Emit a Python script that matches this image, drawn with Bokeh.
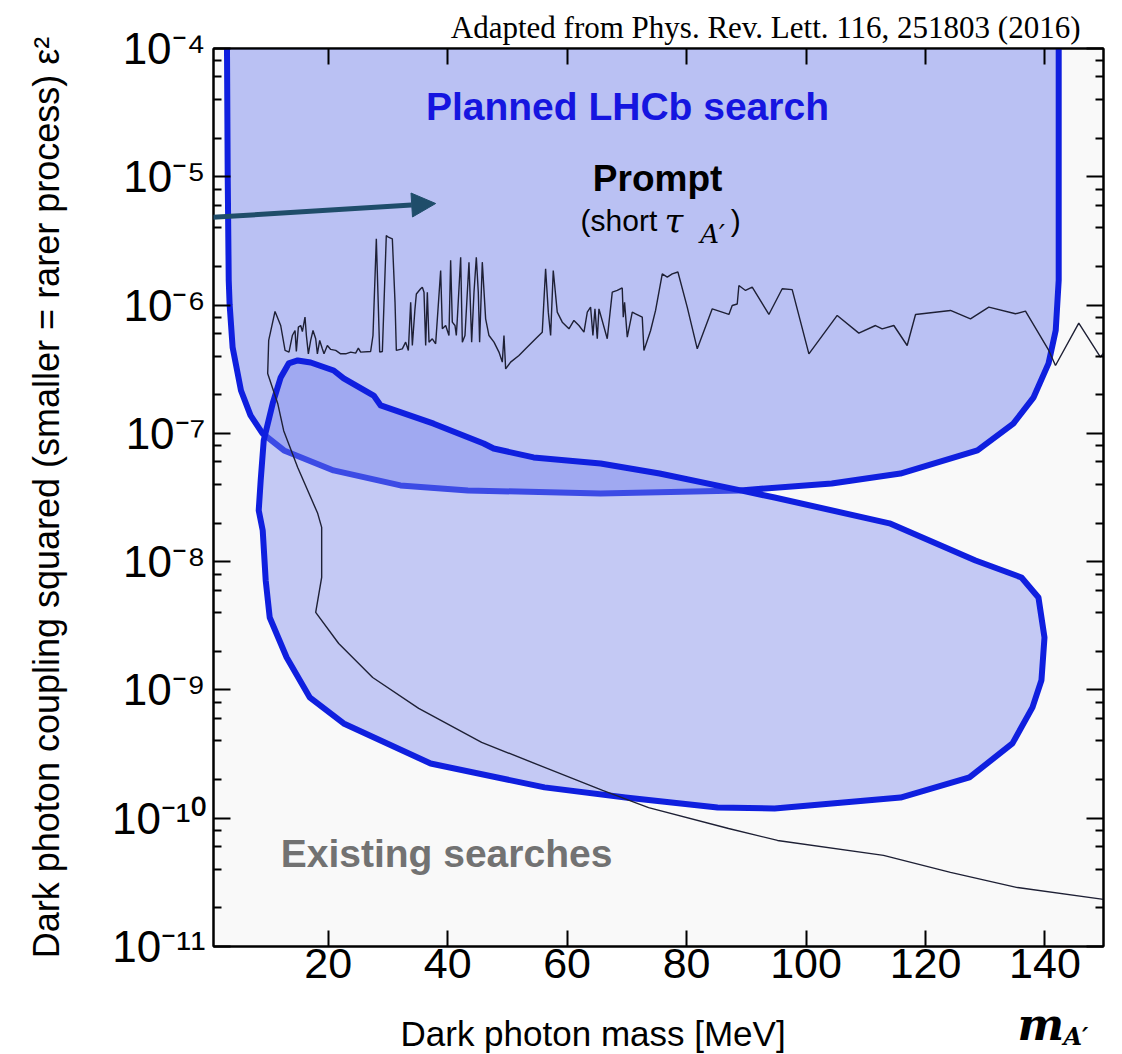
import math
from bokeh.plotting import figure
from bokeh.models import (Range1d, FixedTicker, LinearAxis, LogAxis, Label,
                          Arrow, NormalHead, Title)
from bokeh.embed import file_html
from bokeh.resources import INLINE

# ---------------- data ----------------
# Planned LHCb prompt search region (U shape, open at the top)
prompt_mass = [3.0, 3.18, 3.35, 3.5, 4.0, 5.4, 7.0, 9.0, 12.6, 20.9, 32.1, 43.4,
               65.6, 89.0, 104.3, 115.8, 128.7, 134.7, 138.1, 140.6, 141.8,
               142.3, 142.3]
prompt_eps2 = [3e-4, 1.0e-5, 1.56e-6, 1.01e-6, 4.68e-7, 2.16e-7, 1.38e-7,
               1.0e-7, 7.36e-8, 5.14e-8, 3.93e-8, 3.59e-8, 3.40e-8, 3.59e-8,
               4.07e-8, 4.86e-8, 7.36e-8, 1.19e-7, 1.91e-7, 3.51e-7, 6.34e-7,
               1.56e-6, 3e-4]

# Planned LHCb displaced search region (closed loop)
displaced_mass = [13.05, 10.21, 9.54, 9.04, 8.37, 8.70, 9.21, 10.71, 12.05,
                  13.39, 14.90, 17.07, 20.92, 22.59, 27.62, 28.79, 37.66, 46.03,
                  47.70, 54.39, 65.61, 75.48, 89.04, 94.73, 113.97, 128.37,
                  136.07, 138.91, 139.92, 139.41, 137.91, 134.56, 127.36,
                  115.82, 94.73, 85.19, 69.79, 56.23, 37.15, 22.59, 16.90]
displaced_eps2 = [1.79e-9, 3.67e-9, 7.13e-9, 1.75e-8, 2.51e-8, 4.30e-8, 8.81e-8,
                  1.71e-7, 2.73e-7, 3.51e-7, 3.70e-7, 3.57e-7, 3.09e-7, 2.68e-7,
                  1.97e-7, 1.65e-7, 1.19e-7, 8.34e-8, 7.62e-8, 6.49e-8, 5.82e-8,
                  4.86e-8, 3.59e-8, 3.16e-8, 1.99e-8, 1.02e-8, 7.53e-9, 5.26e-9,
                  2.56e-9, 1.19e-9, 7.31e-10, 3.83e-10, 2.08e-10, 1.45e-10,
                  1.19e-10, 1.21e-10, 1.45e-10, 1.74e-10, 2.67e-10, 5.48e-10,
                  8.75e-10]

# Existing searches limit (one continuous line)
existing_mass = [
    149.79, 135.40, 124.18, 112.97, 95.23, 87.03, 73.64, 65.94, 56.23, 45.69,
    35.15, 27.45, 21.76, 17.91, 18.91, 18.91, 18.24, 14.90, 12.55, 11.55,
    9.87, 10.04, 11.10, 12.05, 12.78, 13.44, 14.00, 14.45, 14.67, 15.01,
    15.40, 15.68, 16.12, 16.35, 16.68, 17.07, 17.46, 17.91, 18.19, 18.58,
    19.02, 19.30, 19.86, 20.42, 21.26, 22.09, 22.93, 23.77, 24.60, 25.05,
    25.44, 27.11, 27.50, 28.06, 28.62, 29.07, 29.73, 30.07, 30.74, 31.19,
    31.41, 32.41, 32.97, 33.42, 33.81, 34.09, 34.53, 34.76, 35.48, 35.76,
    36.04, 36.32, 36.60, 36.88, 37.43, 37.99, 38.83, 39.11, 39.67, 40.22,
    40.50, 40.78, 41.23, 41.45, 41.62, 42.18, 42.46, 42.90, 43.57, 44.02,
    44.41, 44.80, 45.13, 45.35, 45.80, 46.36, 46.92, 47.76, 48.59, 49.15,
    49.43, 49.71, 50.54, 51.94, 53.05, 54.73, 55.84, 56.40, 56.85, 57.24,
    57.68, 58.35, 59.19, 60.31, 61.14, 61.98, 62.82, 63.38, 63.93, 64.32,
    64.66, 65.05, 65.33, 66.72, 67.56, 68.40, 69.23, 69.40, 69.62, 70.07,
    70.91, 71.46, 72.58, 72.86, 73.98, 74.81, 75.93, 76.77, 77.60, 78.55,
    80.11, 81.79, 84.30, 87.09, 87.64, 88.48, 88.76, 89.87, 90.99, 93.78,
    96.01, 97.68, 100.48, 105.22, 108.84, 111.63, 112.75, 114.70, 116.93, 118.33,
    124.18, 127.53, 130.60, 135.06, 136.74, 140.64, 141.76, 145.66, 149.29, 150.13]
existing_eps2 = [
    2.33e-11, 2.88e-11, 3.78e-11, 5.13e-11, 6.71e-11, 8.32e-11, 1.21e-10, 1.65e-10, 2.49e-10, 3.90e-10,
    7.18e-10, 1.25e-9, 2.30e-9, 4.02e-9, 7.53e-9, 1.85e-8, 2.38e-8, 5.42e-8, 1.05e-7, 1.71e-7,
    2.93e-7, 5.30e-7, 8.92e-7, 6.93e-7, 4.43e-7, 4.30e-7, 5.79e-7, 6.34e-7, 4.35e-7, 6.73e-7,
    6.93e-7, 6.22e-7, 8.05e-7, 5.79e-7, 4.17e-7, 5.30e-7, 6.34e-7, 5.46e-7, 4.17e-7, 5.30e-7,
    4.56e-7, 4.17e-7, 4.84e-7, 4.51e-7, 4.43e-7, 4.17e-7, 4.17e-7, 4.30e-7, 4.22e-7, 4.62e-7,
    4.30e-7, 4.35e-7, 5.79e-7, 3.28e-6, 4.30e-7, 4.35e-7, 3.49e-6, 3.38e-6, 3.28e-6, 1.05e-6,
    4.43e-7, 4.56e-7, 5.14e-7, 4.43e-7, 1.05e-6, 4.84e-7, 9.35e-7, 1.22e-6, 1.34e-6, 1.38e-6,
    1.26e-6, 4.84e-7, 1.26e-6, 5.14e-7, 5.46e-7, 4.99e-7, 1.86e-6, 6.53e-7, 6.93e-7, 5.79e-7,
    2.23e-6, 7.36e-7, 6.93e-7, 5.79e-7, 7.81e-7, 2.36e-6, 5.14e-7, 5.79e-7, 2.16e-6, 5.14e-7,
    1.26e-6, 2.36e-6, 1.26e-6, 5.14e-7, 2.16e-6, 7.81e-7, 5.79e-7, 5.14e-7, 4.30e-7, 3.59e-7,
    5.79e-7, 3.18e-7, 3.59e-7, 4.05e-7, 4.56e-7, 5.46e-7, 6.15e-7, 1.92e-6, 8.81e-7, 5.79e-7,
    1.86e-6, 8.81e-7, 7.36e-7, 6.53e-7, 7.59e-7, 6.93e-7, 6.15e-7, 8.81e-7, 9.63e-7, 5.79e-7,
    9.35e-7, 5.46e-7, 9.35e-7, 5.46e-7, 1.26e-6, 1.30e-6, 1.36e-6, 8.05e-7, 1.05e-6, 5.63e-7,
    8.81e-7, 8.55e-7, 8.05e-7, 4.43e-7, 6.34e-7, 9.08e-7, 1.75e-6, 1.65e-6, 1.75e-6, 1.81e-6,
    9.63e-7, 4.56e-7, 9.35e-7, 8.45e-7, 9.93e-7, 1.02e-6, 1.42e-6, 1.30e-6, 1.38e-6, 8.45e-7,
    1.34e-6, 1.32e-6, 4.17e-7, 8.30e-7, 6.04e-7, 6.93e-7, 6.53e-7, 6.93e-7, 4.84e-7, 8.45e-7,
    9.08e-7, 7.81e-7, 9.63e-7, 8.55e-7, 8.97e-7, 4.43e-7, 3.38e-7, 7.23e-7, 3.93e-7, 4.43e-7]

x_ticks = [20, 40, 60, 80, 100, 120, 140]
x_tick_labels = ["20", "40", "60", "80", "100", "120", "140"]
y_ticks = [1e-11, 1e-10, 1e-9, 1e-8, 1e-7, 1e-6, 1e-5, 1e-4]
y_tick_labels = ["10⁻¹¹", "10⁻¹⁰", "10⁻⁹", "10⁻⁸", "10⁻⁷", "10⁻⁶", "10⁻⁵", "10⁻⁴"]
y_minor = [m * 10.0 ** e for e in range(-11, -4) for m in (2, 4, 6, 8)]

# ---------------- styling ----------------
BLUE = "#0f1fdf"
FILL = "#7b89ee"
ARROW = "#1f4d6a"
SANS = "Liberation Sans"
SERIF = "DejaVu Serif"

p = figure(width=1122, height=1054,
           x_range=Range1d(0.8, 149.8), y_range=Range1d(1e-11, 1e-4),
           y_axis_type="log", output_backend="svg", toolbar_location=None,
           min_border_left=213, min_border_right=19, min_border_top=48,
           min_border_bottom=108,
           background_fill_color="#f9f9f9", border_fill_color="white")
p.grid.visible = False
p.outline_line_color = "black"
p.outline_line_width = 2

# bottom axis
xa = p.xaxis[0]
xa.ticker = FixedTicker(ticks=x_ticks, minor_ticks=[])
xa.major_label_overrides = dict(zip(x_ticks, x_tick_labels))
xa.major_tick_in = 16
xa.major_tick_out = 0
xa.major_tick_line_width = 2
xa.axis_line_width = 2
xa.major_label_standoff = 2
xa.major_label_text_font = SANS
xa.major_label_text_font_size = "43px"
xa.major_label_text_color = "black"

# left axis (with its label)
ya = p.yaxis[0]
ya.ticker = FixedTicker(ticks=y_ticks, minor_ticks=y_minor)
ya.major_label_overrides = dict(zip(y_ticks, y_tick_labels))
ya.major_tick_in = 17
ya.major_tick_out = 0
ya.minor_tick_in = 8
ya.minor_tick_out = 0
ya.major_tick_line_width = 2
ya.minor_tick_line_width = 2
ya.axis_line_width = 2
ya.major_label_standoff = 8
ya.major_label_text_font = SANS
ya.major_label_text_font_size = "44px"
ya.major_label_text_color = "black"
ya.axis_label = "Dark photon coupling squared (smaller = rarer process) ε²"
ya.axis_label_text_font = SANS
ya.axis_label_text_font_size = "36px"
ya.axis_label_text_font_style = "normal"
ya.axis_label_text_color = "black"
ya.axis_label_standoff = 42

# top and right axes: ticks only
top = LinearAxis(ticker=FixedTicker(ticks=x_ticks, minor_ticks=[]),
                 major_label_overrides={t: "" for t in x_ticks},
                 major_tick_in=16, major_tick_out=0, major_tick_line_width=2,
                 axis_line_width=2, major_label_standoff=5)
right = LogAxis(ticker=FixedTicker(ticks=y_ticks, minor_ticks=y_minor),
                major_label_overrides={t: "" for t in y_ticks},
                major_tick_in=17, major_tick_out=0, minor_tick_in=8,
                minor_tick_out=0, major_tick_line_width=2,
                minor_tick_line_width=2, axis_line_width=2,
                major_label_standoff=0)
p.add_layout(top, "above")
p.add_layout(right, "right")

# texts outside the plot area (side-panel titles)
def add_title(text, place, align, offset, size, font=SANS, style="normal",
              color="black", valign="top", standoff=0):
    p.add_layout(Title(text=text, align=align, offset=offset, text_font=font,
                       text_font_size=f"{size}px", text_font_style=style,
                       text_color=color, vertical_align=valign,
                       standoff=standoff), place)

add_title("Adapted from Phys. Rev. Lett. 116, 251803 (2016)", "above", "right",
          23, 31, font="Liberation Serif", valign="bottom", standoff=7)
add_title(" ", "below", "left", 0, 35, standoff=5)           # spacing row
add_title("m", "below", "left", 804, 44, font=SERIF, style="bold italic",
          standoff=-56)
add_title("Dark photon mass [MeV]", "below", "left", 187, 35, standoff=-26)
add_title("A′", "below", "left", 850, 24, font=SERIF, style="bold italic",
          standoff=-39)

# regions
p.patch(prompt_mass, prompt_eps2, fill_color=FILL, fill_alpha=0.5,
        line_color=BLUE, line_width=6, line_join="round")
p.patch(displaced_mass, displaced_eps2, fill_color=FILL, fill_alpha=0.42,
        line_color=BLUE, line_width=6, line_join="round")
p.line(existing_mass, existing_eps2, line_color="#1e2035", line_width=1.4)

# texts inside the plot area
def add_label(text, x, y, size, font=SANS, style="normal", color="black",
              align="left", baseline="middle"):
    p.add_layout(Label(x=x, y=y, text=text, text_font=font,
                       text_font_size=f"{size}px", text_font_style=style,
                       text_color=color, text_align=align,
                       text_baseline=baseline))

add_label("Planned LHCb search", 70.1, 3.53e-5, 39, style="bold",
          color="#1515e0", align="center")
add_label("Prompt", 75.15, 9.7e-6, 37, style="bold", align="center")
add_label("(short ", 62.26, 4.56e-6, 30)
add_label("τ", 76.3, 4.56e-6, 34, font=SERIF, style="italic")
add_label("A′", 82.3, 3.55e-6, 26, font=SERIF, style="italic")
add_label(")", 87.4, 4.56e-6, 30)
add_label("Existing searches", 12.05, 5.3e-11, 39, style="bold",
          color="#727272")

# arrow pointing into the prompt region
p.add_layout(Arrow(end=NormalHead(size=24, fill_color=ARROW, line_color=ARROW),
                   x_start=-34.8, y_start=3.81e-6, x_end=38.0, y_end=6.19e-6,
                   line_color=ARROW, line_width=5))

open("out.html", "w").write(file_html(p, INLINE))
